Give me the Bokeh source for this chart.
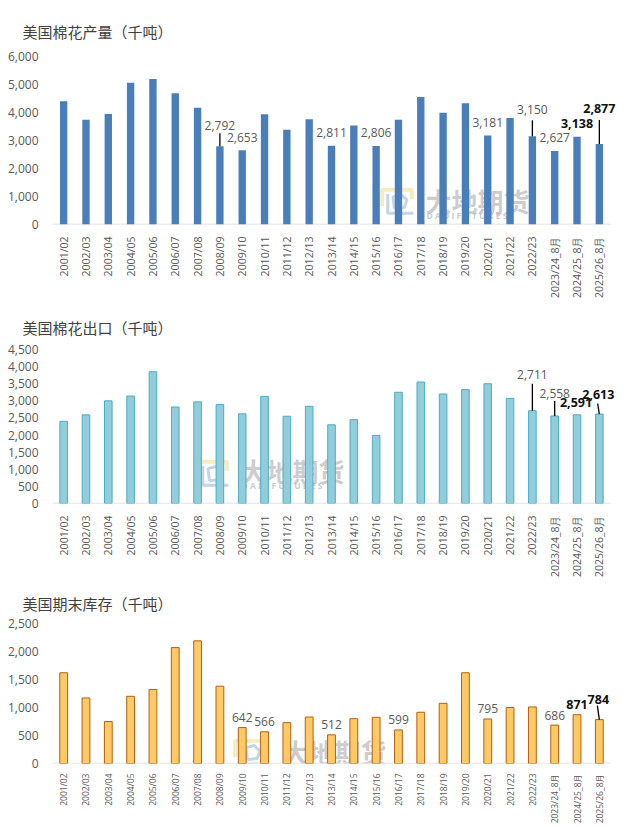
import math
from bokeh.plotting import figure
from bokeh.models import (ColumnDataSource, Range1d, NumeralTickFormatter,
                          FixedTicker, Label, Title)
from bokeh.layouts import column
from bokeh.core.properties import value
from bokeh.embed import file_html
from bokeh.resources import INLINE

# ---------------- data ----------------
seasons = ["2001/02", "2002/03", "2003/04", "2004/05", "2005/06", "2006/07", "2007/08",
           "2008/09", "2009/10", "2010/11", "2011/12", "2012/13", "2013/14", "2014/15",
           "2015/16", "2016/17", "2017/18", "2018/19", "2019/20", "2020/21", "2021/22",
           "2022/23", "2023/24_8月", "2024/25_8月", "2025/26_8月"]

production = [4400, 3740, 3950, 5060, 5200, 4690, 4170, 2792, 2653, 3940, 3380, 3760, 2811,
              3540, 2806, 3740, 4550, 3990, 4330, 3181, 3800, 3150, 2627, 3138, 2877]

exports = [2400, 2590, 3000, 3140, 3850, 2820, 2970, 2890, 2620, 3130, 2550, 2840, 2300,
           2450, 1990, 3250, 3550, 3200, 3330, 3500, 3070, 2711, 2558, 2591, 2613]

ending_stocks = [1620, 1170, 750, 1200, 1320, 2070, 2190, 1380, 642, 566, 730, 830, 512,
                 800, 825, 599, 915, 1075, 1620, 795, 1000, 1010, 686, 871, 784]

production_ticks = [0, 1000, 2000, 3000, 4000, 5000, 6000]
exports_ticks = [0, 500, 1000, 1500, 2000, 2500, 3000, 3500, 4000, 4500]
stocks_ticks = [0, 500, 1000, 1500, 2000, 2500]

titles = ["美国棉花产量（千吨）", "美国棉花出口（千吨）", "美国期末库存（千吨）"]

# seasons whose values are labelled in each panel
production_labelled = ["2008/09", "2009/10", "2013/14", "2015/16", "2020/21", "2022/23",
                       "2023/24_8月", "2024/25_8月", "2025/26_8月"]
exports_labelled = ["2022/23", "2023/24_8月", "2024/25_8月", "2025/26_8月"]
stocks_labelled = ["2009/10", "2010/11", "2013/14", "2016/17", "2020/21",
                   "2023/24_8月", "2024/25_8月", "2025/26_8月"]

# ---------------- styles (pixel layout) ----------------
# per label: (lift px above bar top, leader length px, leader top dx px, text dx px, bold)
production_label_style = [(21, 13, 0, 0, False), (13, 0, 0, 0, False), (13, 0, 0, 0, False),
                          (13, 0, 0, 0, False), (13, 0, 0, 0, False), (27, 16, 0, 0, False),
                          (13, 0, 0, 0, False), (13.5, 0, 0, 0, True), (35, 24, 0, 0, True)]
exports_label_style = [(36, 27, 0, 0, False), (22.5, 15, 0, 0, False),
                       (12.5, 0, 0, -1, True), (19.5, 10.5, -1.7, -1, True)]
stocks_label_style = [(10.5, 0, 0, 0, False), (10, 0, 0, 0, False), (10, 0, 0, 0, False),
                      (10, 0, 0, 0, False), (10, 0, 0, 0, False), (10, 0, 0, 0, False),
                      (10.5, 0, 0, 0, True), (20, 14, -2, -1, True)]

FIG_W = 620
FRAME_L = 52
AXIS_W = 558               # width covered by the categories (axis line length)
FRAME_W = FIG_W - FRAME_L  # frame extends a little past the axis for labels
N = len(seasons)
PX_PER_CAT = AXIS_W / N
X_END = FRAME_W / PX_PER_CAT
positions = [i + 0.5 for i in range(N)]

NUM_FONT = "Open Sans"
CJK_FONT = "Noto Sans CJK SC"


def make_panel(title, vals, ticks, labelled, label_style, height, top, frame_h,
               fill, line, bar_w, xlab_size, xlab_standoff, wm):
    bottom = height - top - frame_h
    ymax = ticks[-1]
    p = figure(width=FIG_W, height=height, x_range=Range1d(0, X_END),
               y_range=Range1d(0, ymax), output_backend="svg", toolbar_location=None,
               min_border_left=FRAME_L, min_border_right=0,
               min_border_top=top, min_border_bottom=bottom)
    p.extra_x_ranges = {"px": Range1d(0, FRAME_W)}
    p.extra_y_ranges = {"px": Range1d(0, frame_h)}
    p.outline_line_color = None
    p.xgrid.grid_line_color = None
    p.ygrid.grid_line_color = None
    p.background_fill_color = "white"
    p.border_fill_color = "white"

    p.title = Title(text=title[0], align="left", offset=-30, standoff=title[1],
                    text_font=CJK_FONT, text_font_size="15px", text_font_style="normal",
                    text_color="#404040")

    # watermark (drawn under bars)
    lx, ly, tx, ty = wm
    lw, lh = 33, 27
    p.line(x=[lx + 0.05 * lw, lx + 0.05 * lw, lx + 0.95 * lw, lx + 0.95 * lw],
           y=[ly + 0.35 * lh, ly + 0.95 * lh, ly + 0.95 * lh, ly + 0.6 * lh],
           x_range_name="px", y_range_name="px", line_color="#F2DE96", line_width=4,
           line_alpha=0.6, level="underlay")
    p.line(x=[lx + 0.22 * lw, lx + 0.22 * lw, lx + 1.0 * lw],
           y=[ly + 0.8 * lh, ly + 0.08 * lh, ly + 0.08 * lh],
           x_range_name="px", y_range_name="px", line_color="#9DB8DE", line_width=3,
           line_alpha=0.6, level="underlay")
    p.line(x=[lx + 0.42 * lw, lx + 0.72 * lw, lx + 0.8 * lw, lx + 0.62 * lw, lx + 0.38 * lw, lx + 0.42 * lw],
           y=[ly + 0.25 * lh, ly + 0.3 * lh, ly + 0.58 * lh, ly + 0.78 * lh, ly + 0.7 * lh, ly + 0.25 * lh],
           x_range_name="px", y_range_name="px", line_color="#9DB8DE", line_width=3,
           line_alpha=0.6, level="underlay")
    p.add_layout(Label(x=tx, y=ty, x_range_name="px", y_range_name="px", text="大地期货",
                       text_font=CJK_FONT, text_font_size="26px", text_font_style="bold",
                       text_color="#BFBFBF", text_alpha=0.8, text_baseline="middle",
                       text_align="left", level="underlay"))
    p.add_layout(Label(x=tx + 1, y=ty - 15, x_range_name="px", y_range_name="px",
                       text="D A D I   F U T U R E S", text_font=NUM_FONT,
                       text_font_size="8.5px", text_font_style="bold",
                       text_color="#BDBDBD", text_alpha=0.8, text_baseline="middle",
                       text_align="left", level="underlay"))

    # category baseline (axis line)
    p.segment(x0=[0], y0=[0], x1=[N], y1=[0], line_color="#D9D9D9", line_width=1.3)

    src = ColumnDataSource(dict(x=positions, top=vals))
    p.vbar(x="x", top="top", width=bar_w, source=src, fill_color=fill,
           line_color=line, line_width=1 if line else 0)

    # value labels and leader lines
    upp = ymax / frame_h
    lab = dict(x=[], y=[], text=[], dx=[])
    labb = dict(x=[], y=[], text=[], dx=[])
    lead = dict(x0=[], x1=[], y0=[], y1=[])
    for cat, (lift, leader, ldx, tdx, bold) in zip(labelled, label_style):
        i = seasons.index(cat)
        v = vals[i]
        d = labb if bold else lab
        d["x"].append(positions[i])
        d["y"].append(v + lift * upp)
        d["text"].append(f"{v:,}")
        d["dx"].append(tdx)
        if leader:
            lead["x0"].append(positions[i])
            lead["x1"].append(positions[i] + ldx / PX_PER_CAT)
            lead["y0"].append(v)
            lead["y1"].append(v + leader * upp)
    if lead["x0"]:
        p.segment(x0="x0", y0="y0", x1="x1", y1="y1", source=ColumnDataSource(lead),
                  line_color="black", line_width=1.3)
    p.text(x="x", y="y", text="text", x_offset="dx", source=ColumnDataSource(lab),
           text_align="center", text_baseline="middle", text_font=value(NUM_FONT),
           text_font_size="12px", text_color="#595959")
    p.text(x="x", y="y", text="text", x_offset="dx", source=ColumnDataSource(labb),
           text_align="center", text_baseline="middle", text_font=value(NUM_FONT),
           text_font_size="12.5px", text_font_style="bold", text_color="#111111")

    # axes
    p.yaxis.ticker = FixedTicker(ticks=ticks)
    p.yaxis.formatter = NumeralTickFormatter(format="0,0")
    p.yaxis.axis_line_color = None
    p.yaxis.major_tick_line_color = None
    p.yaxis.minor_tick_line_color = None
    p.yaxis.major_label_text_font = NUM_FONT
    p.yaxis.major_label_text_font_size = "12px"
    p.yaxis.major_label_text_color = "#595959"
    p.yaxis.major_label_standoff = 8

    p.xaxis.ticker = FixedTicker(ticks=positions)
    p.xaxis.major_label_overrides = {pos: s for pos, s in zip(positions, seasons)}
    p.xaxis.axis_line_color = None
    p.xaxis.major_tick_line_color = None
    p.xaxis.minor_tick_line_color = None
    p.xaxis.major_label_orientation = math.pi / 2
    p.xaxis.major_label_text_font = NUM_FONT
    p.xaxis.major_label_text_font_size = xlab_size
    p.xaxis.major_label_text_color = "#595959"
    p.xaxis.major_label_standoff = xlab_standoff
    return p


p1 = make_panel((titles[0], 29), production, production_ticks, production_labelled,
                production_label_style, height=301, top=56, frame_h=168,
                fill="#4A7EBB", line=None, bar_w=0.33, xlab_size="10.5px", xlab_standoff=6,
                wm=(328, 9, 373, 24))
p2 = make_panel((titles[1], 24), exports, exports_ticks, exports_labelled,
                exports_label_style, height=279, top=48, frame_h=154,
                fill="#92CDDC", line="#4BACC6", bar_w=0.34, xlab_size="10.5px", xlab_standoff=6,
                wm=(143, 16, 188, 33))
p3 = make_panel((titles[2], 19), ending_stocks, stocks_ticks, stocks_labelled,
                stocks_label_style, height=247, top=43, frame_h=140,
                fill="#FFCA66", line="#B35F12", bar_w=0.35, xlab_size="8.5px", xlab_standoff=4,
                wm=(181, -3, 230, 12))

layout = column(p1, p2, p3, spacing=0)
open("out.html", "w").write(file_html(layout, INLINE))
